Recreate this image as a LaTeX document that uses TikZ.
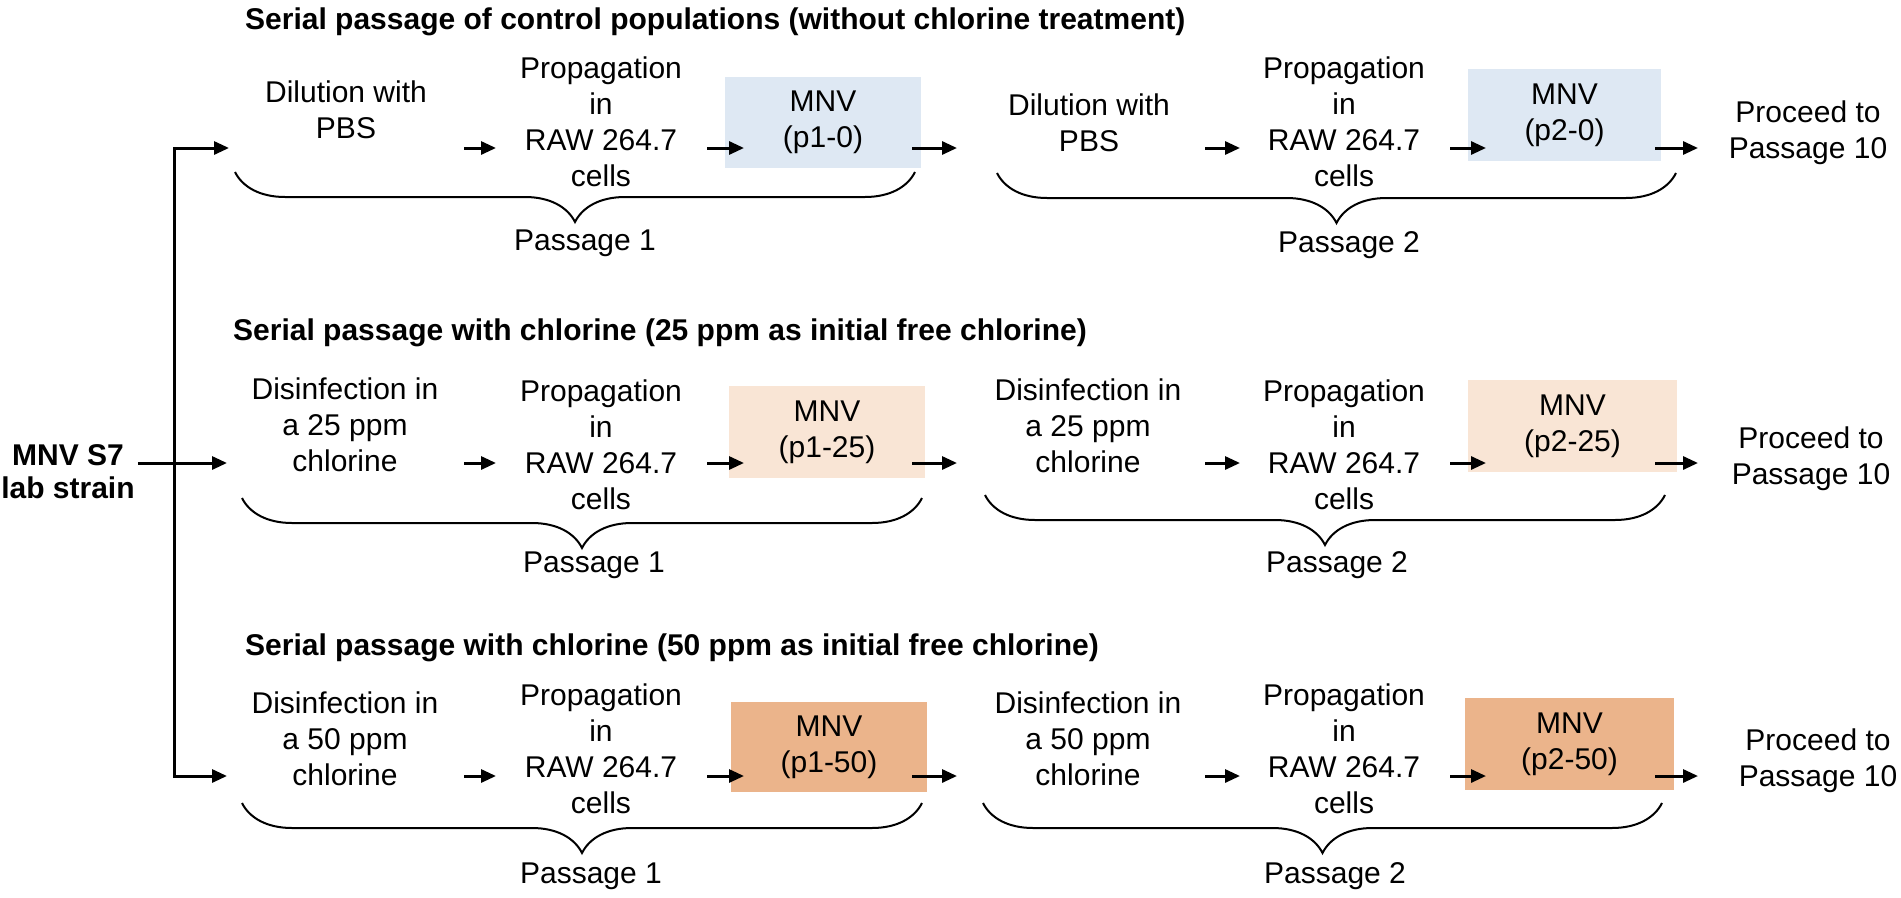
\documentclass[tikz,border=0pt]{standalone}
\usepackage{fontspec}
\setmainfont{Liberation Sans}
\usetikzlibrary{arrows.meta,decorations.pathreplacing}
\definecolor{boxblue}{HTML}{DEE8F3}
\definecolor{boxpeach}{HTML}{F9E5D5}
\definecolor{boxorange}{HTML}{EBB48B}
\begin{document}
\begin{tikzpicture}[x=1pt,y=-1pt,
  txt/.style={align=center,font=\fontsize{30}{36}\selectfont,inner sep=0pt},
  ttl/.style={anchor=west,font=\bfseries\fontsize{30}{36}\selectfont,inner sep=0pt},
  mnvbox/.style={align=center,font=\fontsize{30}{36}\selectfont,inner sep=0pt,draw=none},
  arr/.style={line width=3pt,-{Triangle[length=15pt,width=13pt]}},
  darr/.style={line width=3pt,line join=miter,{Triangle[length=15pt,width=13pt]}-{Triangle[length=15pt,width=13pt]}},
  brc/.style={line width=2pt,decorate,decoration={brace,amplitude=50pt}}
]
\useasboundingbox (0,0) rectangle (1901,897);

% ---------- titles ----------
\node[ttl] (t1) at (245,22) {Serial passage of control populations (without chlorine treatment)};
\node[ttl] (t2) at (233,333) {Serial passage with chlorine (25 ppm as initial free chlorine)};
\node[ttl] (t3) at (245,648) {Serial passage with chlorine (50 ppm as initial free chlorine)};

% ---------- source ----------
\node[align=center,font=\bfseries\fontsize{30}{33}\selectfont,inner sep=0pt] (src) at (68,471.5) {MNV S7\\lab strain};
\coordinate (vtop) at (174,148);
\coordinate (vbot) at (174,776);
\coordinate (in1) at (229,148);
\coordinate (in3) at (227,776);
\coordinate (in2) at (227,463);
\draw[darr] (in1) -- (vtop) -- (vbot) -- (in3);
\draw[arr] (src.east |- in2) ++(3,0) -- (in2);

% ---------- row 1 ----------
\node[txt] (d11) at (346,110) {Dilution with\\PBS};
\node[txt] (p11) at (601,121.5) {Propagation\\in\\RAW 264.7\\cells};
\node[mnvbox,fill=boxblue,minimum width=196pt,minimum height=91pt] (m11) at (823,122.5) {MNV\\(p1-0)};
\node[txt] (d12) at (1089,123) {Dilution with\\PBS};
\node[txt] (p12) at (1344,121.5) {Propagation\\in\\RAW 264.7\\cells};
\node[mnvbox,fill=boxblue,minimum width=193pt,minimum height=92pt] (m12) at (1564.5,115) {MNV\\(p2-0)};
\node[txt] (pr1) at (1808,132.5) {Proceed to\\Passage 10};
\draw[arr] (464,148) -- (496,148);
\draw[arr] (707,148) -- (744,148);
\draw[arr] (912,148) -- (957,148);
\draw[arr] (1205,148) -- (1240,148);
\draw[arr] (1450,148) -- (1486,148);
\draw[arr] (1655,148) -- (1698,148);
\draw[brc] (915,172) -- (235,172);
\draw[brc] (1676,173) -- (997,173);
\node[txt] (pa11) at (585,243) {Passage 1};
\node[txt] (pa12) at (1349,245) {Passage 2};

% ---------- row 2 ----------
\node[txt] (d21) at (345,425) {Disinfection in\\a 25 ppm\\chlorine};
\node[txt] (p21) at (601,444.5) {Propagation\\in\\RAW 264.7\\cells};
\node[mnvbox,fill=boxpeach,minimum width=196pt,minimum height=92pt] (m21) at (827,432) {MNV\\(p1-25)};
\node[txt] (d22) at (1088,426) {Disinfection in\\a 25 ppm\\chlorine};
\node[txt] (p22) at (1344,445) {Propagation\\in\\RAW 264.7\\cells};
\node[mnvbox,fill=boxpeach,minimum width=209pt,minimum height=92pt] (m22) at (1572.5,426) {MNV\\(p2-25)};
\node[txt] (pr2) at (1811,458.5) {Proceed to\\Passage 10};
\draw[arr] (464,463) -- (496,463);
\draw[arr] (707,463) -- (744,463);
\draw[arr] (912,463) -- (957,463);
\draw[arr] (1205,463) -- (1240,463);
\draw[arr] (1450,463) -- (1486,463);
\draw[arr] (1655,463) -- (1698,463);
\draw[brc] (922,498) -- (242,498);
\draw[brc] (1665,495) -- (985,495);
\node[txt] (pa21) at (594,565) {Passage 1};
\node[txt] (pa22) at (1337,565) {Passage 2};

% ---------- row 3 ----------
\node[txt] (d31) at (345,739) {Disinfection in\\a 50 ppm\\chlorine};
\node[txt] (p31) at (601,748.5) {Propagation\\in\\RAW 264.7\\cells};
\node[mnvbox,fill=boxorange,minimum width=196pt,minimum height=90pt] (m31) at (829,747) {MNV\\(p1-50)};
\node[txt] (d32) at (1088,739) {Disinfection in\\a 50 ppm\\chlorine};
\node[txt] (p32) at (1344,748.5) {Propagation\\in\\RAW 264.7\\cells};
\node[mnvbox,fill=boxorange,minimum width=209pt,minimum height=92pt] (m32) at (1569.5,744) {MNV\\(p2-50)};
\node[txt] (pr3) at (1818,760.5) {Proceed to\\Passage 10};
\draw[arr] (464,776) -- (496,776);
\draw[arr] (707,776) -- (744,776);
\draw[arr] (912,776) -- (957,776);
\draw[arr] (1205,776) -- (1240,776);
\draw[arr] (1450,776) -- (1486,776);
\draw[arr] (1655,776) -- (1698,776);
\draw[brc] (922,803) -- (242,803);
\draw[brc] (1662,803) -- (983,803);
\node[txt] (pa31) at (591,876) {Passage 1};
\node[txt] (pa32) at (1335,876) {Passage 2};
\end{tikzpicture}
\end{document}
